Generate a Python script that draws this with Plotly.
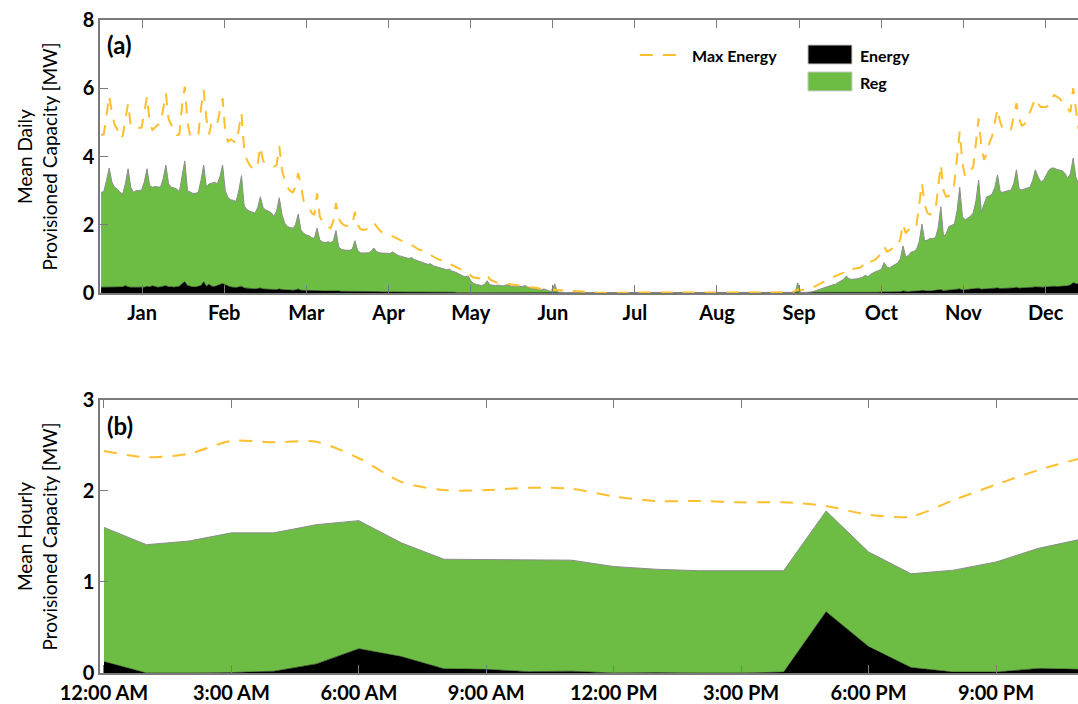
import plotly.graph_objects as go

# ---------------- data ----------------
month_labels = ["Jan", "Feb", "Mar", "Apr", "May", "Jun",
                "Jul", "Aug", "Sep", "Oct", "Nov", "Dec"]
month_tick_days = [15.2, 45.6, 76.0, 106.5, 136.9, 167.3,
                   197.7, 228.1, 258.5, 289.0, 319.4, 349.8]

# top of the Reg band (Energy + Reg), daily, MW
reg_top_daily = [
    2.95, 2.97, 3.30, 3.66, 3.25, 3.10, 3.05,
    2.95, 2.90, 3.20, 3.64, 3.10, 2.95, 3.00,
    3.00, 3.02, 3.25, 3.64, 3.15, 3.10, 3.12,
    3.12, 3.10, 3.35, 3.75, 3.20, 3.10, 3.08,
    3.05, 2.97, 3.40, 3.87, 3.00, 2.95, 2.92,
    2.92, 2.95, 3.30, 3.75, 3.10, 3.20, 3.22,
    3.25, 3.20, 3.40, 3.75, 3.00, 2.80, 2.73,
    2.72, 2.68, 3.00, 3.44, 2.55, 2.45, 2.40,
    2.36, 2.34, 2.50, 2.82, 2.50, 2.43, 2.40,
    2.35, 2.25, 2.40, 2.79, 2.30, 2.05, 1.95,
    1.92, 1.90, 2.00, 2.31, 1.85, 1.75, 1.70,
    1.68, 1.62, 1.60, 1.90, 1.55, 1.50, 1.47,
    1.50, 1.48, 1.52, 1.83, 1.35, 1.28, 1.26,
    1.26, 1.25, 1.28, 1.53, 1.25, 1.18, 1.17,
    1.17, 1.18, 1.22, 1.32, 1.22, 1.18, 1.17,
    1.16, 1.15, 1.16, 1.20, 1.14, 1.10, 1.08,
    1.05, 1.03, 1.01, 1.04, 0.98, 0.95, 0.93,
    0.90, 0.87, 0.84, 0.86, 0.80, 0.78, 0.76,
    0.73, 0.70, 0.68, 0.70, 0.64, 0.62, 0.58,
    0.52, 0.50, 0.48, 0.50, 0.35, 0.28, 0.25,
    0.24, 0.22, 0.25, 0.36, 0.24, 0.22, 0.22,
    0.23, 0.22, 0.21, 0.24, 0.21, 0.20, 0.20,
    0.20, 0.19, 0.19, 0.22, 0.17, 0.15, 0.13,
    0.11, 0.10, 0.09, 0.12, 0.08, 0.06, 0.05,
    0.27, 0.03, 0.02, 0.02, 0.01, 0.01, 0.01,
    0.01, 0.01, 0.01, 0.01, 0.01, 0.01, 0.01,
    0.01, 0.01, 0.01, 0.01, 0.01, 0.01, 0.01,
    0.01, 0.01, 0.01, 0.01, 0.01, 0.01, 0.01,
    0.01, 0.01, 0.01, 0.01, 0.01, 0.01, 0.01,
    0.01, 0.01, 0.01, 0.01, 0.01, 0.01, 0.01,
    0.01, 0.01, 0.01, 0.01, 0.01, 0.01, 0.01,
    0.01, 0.01, 0.01, 0.01, 0.01, 0.01, 0.01,
    0.01, 0.01, 0.01, 0.01, 0.01, 0.01, 0.01,
    0.01, 0.01, 0.01, 0.01, 0.01, 0.01, 0.01,
    0.01, 0.01, 0.01, 0.01, 0.01, 0.01, 0.01,
    0.01, 0.01, 0.01, 0.01, 0.01, 0.01, 0.01,
    0.01, 0.01, 0.01, 0.01, 0.01, 0.01, 0.30,
    0.01, 0.01, 0.01, 0.02, 0.03, 0.05, 0.08,
    0.10, 0.13, 0.16, 0.20, 0.22, 0.24, 0.26,
    0.30, 0.34, 0.40, 0.50, 0.42, 0.40, 0.40,
    0.42, 0.44, 0.46, 0.52, 0.48, 0.55, 0.60,
    0.63, 0.66, 0.70, 0.89, 0.76, 0.74, 0.78,
    0.82, 0.88, 1.00, 1.38, 1.06, 1.10, 1.20,
    1.22, 1.28, 1.50, 2.02, 1.53, 1.55, 1.60,
    1.60, 1.62, 1.90, 2.53, 1.65, 1.75, 1.95,
    1.98, 2.02, 2.40, 3.10, 2.24, 2.14, 2.20,
    2.25, 2.35, 2.70, 3.31, 2.38, 2.60, 2.82,
    2.85, 2.90, 3.10, 3.46, 2.97, 2.95, 2.98,
    3.00, 3.02, 3.20, 3.61, 3.05, 3.02, 3.05,
    3.08, 3.10, 3.30, 3.61, 3.41, 3.26, 3.30,
    3.45, 3.60, 3.66, 3.66, 3.62, 3.61, 3.58,
    3.50, 3.36, 3.50, 3.95, 3.40, 3.20, 3.25,
    3.25,
]

energy_daily = [
    0.17, 0.17, 0.17, 0.18, 0.17, 0.17, 0.17,
    0.17, 0.18, 0.22, 0.18, 0.17, 0.17, 0.18,
    0.17, 0.18, 0.17, 0.20, 0.18, 0.21, 0.18,
    0.17, 0.18, 0.20, 0.22, 0.18, 0.19, 0.17,
    0.18, 0.20, 0.28, 0.33, 0.22, 0.19, 0.18,
    0.18, 0.19, 0.22, 0.33, 0.20, 0.26, 0.20,
    0.19, 0.22, 0.25, 0.28, 0.24, 0.20, 0.18,
    0.17, 0.16, 0.18, 0.20, 0.15, 0.14, 0.14,
    0.13, 0.12, 0.13, 0.15, 0.12, 0.11, 0.11,
    0.11, 0.10, 0.10, 0.12, 0.10, 0.09, 0.09,
    0.09, 0.08, 0.09, 0.12, 0.08, 0.08, 0.07,
    0.07, 0.07, 0.07, 0.09, 0.07, 0.06, 0.06,
    0.06, 0.06, 0.06, 0.08, 0.06, 0.05, 0.05,
    0.05, 0.05, 0.05, 0.06, 0.05, 0.04, 0.04,
    0.04, 0.04, 0.04, 0.05, 0.04, 0.04, 0.03,
    0.03, 0.03, 0.03, 0.04, 0.03, 0.03, 0.03,
    0.03, 0.03, 0.02, 0.03, 0.02, 0.02, 0.02,
    0.02, 0.02, 0.02, 0.03, 0.02, 0.02, 0.02,
    0.02, 0.02, 0.02, 0.02, 0.02, 0.02, 0.01,
    0.01, 0.01, 0.01, 0.01, 0.01, 0.01, 0.01,
    0.01, 0.01, 0.01, 0.01, 0.01, 0.01, 0.01,
    0.01, 0.01, 0.01, 0.01, 0.01, 0.01, 0.01,
    0.01, 0.01, 0.01, 0.01, 0.01, 0.00, 0.00,
    0.00, 0.00, 0.00, 0.00, 0.00, 0.00, 0.00,
    0.00, 0.00, 0.00, 0.00, 0.00, 0.00, 0.00,
    0.00, 0.00, 0.00, 0.00, 0.00, 0.00, 0.00,
    0.00, 0.00, 0.00, 0.00, 0.00, 0.00, 0.00,
    0.00, 0.00, 0.00, 0.00, 0.00, 0.00, 0.00,
    0.00, 0.00, 0.00, 0.00, 0.00, 0.00, 0.00,
    0.00, 0.00, 0.00, 0.00, 0.00, 0.00, 0.00,
    0.00, 0.00, 0.00, 0.00, 0.00, 0.00, 0.00,
    0.00, 0.00, 0.00, 0.00, 0.00, 0.00, 0.00,
    0.00, 0.00, 0.00, 0.00, 0.00, 0.00, 0.00,
    0.00, 0.00, 0.00, 0.00, 0.00, 0.00, 0.00,
    0.00, 0.00, 0.00, 0.00, 0.00, 0.00, 0.00,
    0.00, 0.00, 0.00, 0.00, 0.00, 0.00, 0.00,
    0.00, 0.00, 0.00, 0.00, 0.00, 0.00, 0.00,
    0.00, 0.00, 0.00, 0.00, 0.00, 0.00, 0.00,
    0.00, 0.00, 0.00, 0.00, 0.01, 0.01, 0.01,
    0.01, 0.01, 0.01, 0.02, 0.01, 0.01, 0.01,
    0.01, 0.02, 0.02, 0.02, 0.02, 0.02, 0.02,
    0.02, 0.02, 0.03, 0.04, 0.03, 0.03, 0.03,
    0.03, 0.04, 0.04, 0.06, 0.04, 0.04, 0.05,
    0.05, 0.05, 0.06, 0.08, 0.06, 0.06, 0.06,
    0.07, 0.07, 0.08, 0.10, 0.07, 0.08, 0.08,
    0.09, 0.09, 0.10, 0.12, 0.09, 0.10, 0.10,
    0.10, 0.11, 0.12, 0.14, 0.11, 0.12, 0.12,
    0.12, 0.13, 0.14, 0.15, 0.13, 0.13, 0.14,
    0.14, 0.14, 0.15, 0.17, 0.14, 0.15, 0.15,
    0.15, 0.16, 0.17, 0.18, 0.17, 0.16, 0.17,
    0.18, 0.19, 0.20, 0.20, 0.19, 0.19, 0.20,
    0.20, 0.21, 0.24, 0.30, 0.28, 0.26, 0.27,
    0.28,
]

max_energy_daily = [
    4.63, 4.65, 5.20, 5.78, 5.30, 4.93, 4.80,
    4.53, 4.60, 5.10, 5.56, 4.90, 4.83, 4.83,
    4.83, 4.85, 5.30, 5.76, 5.00, 4.78, 4.85,
    4.93, 4.95, 5.40, 5.85, 5.10, 4.90, 4.75,
    4.63, 4.65, 5.50, 6.05, 5.00, 4.60, 4.58,
    4.60, 4.62, 5.40, 5.95, 5.10, 4.65, 5.02,
    5.02, 4.95, 5.30, 5.71, 4.70, 4.44, 4.50,
    4.44, 4.40, 4.80, 5.27, 4.20, 3.90, 3.75,
    3.65, 3.61, 3.80, 4.29, 3.87, 3.80, 3.75,
    3.72, 3.70, 3.75, 4.31, 3.60, 3.30, 3.10,
    2.99, 2.95, 3.10, 3.51, 3.17, 2.70, 2.58,
    2.50, 2.35, 2.29, 2.92, 2.24, 2.10, 2.00,
    1.95, 1.90, 2.10, 2.63, 2.20, 2.05, 1.99,
    1.96, 1.94, 2.00, 2.38, 2.00, 1.88, 1.85,
    1.86, 1.90, 1.95, 2.06, 1.95, 1.85, 1.78,
    1.74, 1.70, 1.67, 1.66, 1.62, 1.57, 1.53,
    1.50, 1.47, 1.43, 1.40, 1.35, 1.30, 1.26,
    1.26, 1.22, 1.17, 1.12, 1.07, 1.02, 0.98,
    0.97, 0.93, 0.89, 0.85, 0.80, 0.76, 0.73,
    0.70, 0.68, 0.65, 0.62, 0.50, 0.45, 0.45,
    0.44, 0.42, 0.45, 0.53, 0.40, 0.35, 0.32,
    0.30, 0.29, 0.27, 0.28, 0.25, 0.24, 0.23,
    0.23, 0.22, 0.21, 0.22, 0.19, 0.17, 0.16,
    0.16, 0.14, 0.12, 0.13, 0.11, 0.10, 0.09,
    0.10, 0.09, 0.08, 0.08, 0.07, 0.07, 0.06,
    0.06, 0.05, 0.05, 0.05, 0.04, 0.03, 0.02,
    0.01, 0.01, 0.01, 0.01, 0.01, 0.01, 0.01,
    0.01, 0.01, 0.01, 0.01, 0.01, 0.01, 0.01,
    0.01, 0.01, 0.01, 0.01, 0.01, 0.01, 0.01,
    0.01, 0.01, 0.01, 0.01, 0.01, 0.01, 0.01,
    0.01, 0.01, 0.01, 0.01, 0.01, 0.01, 0.01,
    0.01, 0.01, 0.01, 0.01, 0.01, 0.01, 0.01,
    0.01, 0.01, 0.01, 0.01, 0.01, 0.01, 0.01,
    0.01, 0.01, 0.01, 0.01, 0.01, 0.01, 0.01,
    0.01, 0.01, 0.01, 0.01, 0.01, 0.01, 0.01,
    0.01, 0.01, 0.01, 0.01, 0.01, 0.01, 0.01,
    0.01, 0.01, 0.01, 0.01, 0.02, 0.06, 0.10,
    0.09, 0.09, 0.09, 0.10, 0.14, 0.18, 0.22,
    0.27, 0.30, 0.36, 0.40, 0.44, 0.47, 0.50,
    0.53, 0.56, 0.60, 0.70, 0.68, 0.70, 0.72,
    0.72, 0.74, 0.80, 0.95, 0.92, 0.92, 0.95,
    1.00, 1.08, 1.20, 1.36, 1.21, 1.25, 1.30,
    1.32, 1.34, 1.60, 2.02, 1.75, 1.85, 1.90,
    1.85, 1.99, 2.60, 3.22, 2.60, 2.35, 2.30,
    2.35, 2.40, 3.10, 3.76, 3.00, 2.82, 2.85,
    2.90, 3.20, 4.00, 4.73, 3.80, 3.41, 3.50,
    3.60, 3.70, 4.40, 5.12, 4.30, 3.90, 4.10,
    4.40, 4.60, 5.00, 5.39, 5.00, 4.80, 4.75,
    4.75, 4.80, 5.20, 5.56, 5.10, 4.90, 4.95,
    5.10, 5.30, 5.50, 5.70, 5.55, 5.45, 5.45,
    5.45, 5.50, 5.70, 5.80, 5.75, 5.70, 5.60,
    5.50, 5.40, 5.30, 6.00, 5.40, 4.80, 5.00,
    5.20,
]

days = list(range(len(reg_top_daily)))

hour_tick_vals = [0, 3, 6, 9, 12, 15, 18, 21]
hour_tick_labels = ["12:00 AM", "3:00 AM", "6:00 AM", "9:00 AM",
                    "12:00 PM", "3:00 PM", "6:00 PM", "9:00 PM"]
hours = list(range(24))
energy_hourly = [0.125, 0.00, 0.00, 0.005, 0.02, 0.10, 0.267, 0.18,
                 0.047, 0.04, 0.015, 0.02, 0.00, 0.005, 0.00, 0.00,
                 0.01, 0.674, 0.29, 0.06, 0.01, 0.01, 0.05, 0.04]
reg_top_hourly = [1.60, 1.41, 1.45, 1.54, 1.54, 1.63, 1.674, 1.43,
                  1.25, 1.245, 1.24, 1.24, 1.17, 1.14, 1.124, 1.124,
                  1.124, 1.78, 1.33, 1.09, 1.13, 1.22, 1.37, 1.47]
max_energy_hourly = [2.44, 2.37, 2.41, 2.55, 2.535, 2.54, 2.36, 2.10,
                     2.01, 2.01, 2.036, 2.025, 1.94, 1.89, 1.89, 1.875,
                     1.875, 1.835, 1.74, 1.72, 1.90, 2.07, 2.23, 2.36]

# ---------------- styles ----------------
GREEN = "#6dbd45"
BLACK = "#000000"
YELLOW = "#fdbf2d"
EDGE = "#8c8c8c"
AXIS = "#7a7a7a"
FONT = "Lato"

fig = go.Figure()

# (a) daily
fig.add_trace(go.Scatter(x=days, y=energy_daily, mode="lines", fill="tozeroy",
                         fillcolor=BLACK, line=dict(color=BLACK, width=0.5),
                         name="Energy", showlegend=False, xaxis="x", yaxis="y"))
fig.add_trace(go.Scatter(x=days, y=reg_top_daily, mode="lines", fill="tonexty",
                         fillcolor=GREEN, line=dict(color=EDGE, width=1),
                         name="Reg", showlegend=False, xaxis="x", yaxis="y"))
fig.add_trace(go.Scatter(x=days, y=max_energy_daily, mode="lines",
                         line=dict(color=YELLOW, width=2, dash="12px,10px"),
                         name="Max Energy", showlegend=False, xaxis="x", yaxis="y"))

# (b) hourly
fig.add_trace(go.Scatter(x=hours, y=energy_hourly, mode="lines", fill="tozeroy",
                         fillcolor=BLACK, line=dict(color=BLACK, width=0.5),
                         name="Energy", showlegend=False, xaxis="x2", yaxis="y2"))
fig.add_trace(go.Scatter(x=hours, y=reg_top_hourly, mode="lines", fill="tonexty",
                         fillcolor=GREEN, line=dict(color=EDGE, width=1),
                         name="Reg", showlegend=False, xaxis="x2", yaxis="y2"))
fig.add_trace(go.Scatter(x=hours, y=max_energy_hourly, mode="lines",
                         line=dict(color=YELLOW, width=2, dash="13px,10px",
                                   shape="spline", smoothing=0.8),
                         name="Max Energy", showlegend=False, xaxis="x2", yaxis="y2"))

xtickfont = dict(family=FONT, size=20, color="black", weight="bold")
ytickfont = dict(family=FONT, size=20, color="black", weight="bold")
titlefont = dict(family=FONT, size=19, color="black")

common_x = dict(showline=True, linecolor=AXIS, linewidth=1.5, mirror="ticks",
                ticks="inside", ticklen=8, tickcolor=AXIS, tickwidth=1,
                showgrid=False, zeroline=False, tickfont=xtickfont,
                ticklabelstandoff=1, automargin=False)
common_y = dict(showline=True, linecolor=AXIS, linewidth=1.5, mirror=False,
                ticks="inside", ticklen=8, tickcolor=AXIS, tickwidth=1,
                showgrid=False, zeroline=False, tickfont=ytickfont,
                automargin=False)

fig.update_layout(
    width=1078, height=704,
    margin=dict(l=100, r=0, t=20, b=31),
    paper_bgcolor="white", plot_bgcolor="white",
    font=dict(family=FONT, color="black"),
    xaxis=dict(domain=[0, 1], anchor="y", range=[-0.4, 361.8],
               tickvals=month_tick_days, ticktext=month_labels, **common_x),
    yaxis=dict(domain=[0.5819, 1], anchor="x", range=[0, 8],
               tickvals=[0, 2, 4, 6, 8],
               title=dict(text="Mean Daily<br>Provisioned Capacity [MW]",
                          font=titlefont, standoff=20),
               **common_y),
    xaxis2=dict(domain=[0, 1], anchor="y2", range=[-0.094, 22.93],
                tickvals=hour_tick_vals, ticktext=hour_tick_labels, **common_x),
    yaxis2=dict(domain=[0, 0.4181], anchor="x2", range=[0, 3],
                tickvals=[0, 1, 2, 3],
                title=dict(text="Mean Hourly<br>Provisioned Capacity [MW]",
                           font=titlefont, standoff=20),
                **common_y),
    showlegend=False,
)

# panel labels
fig.add_annotation(text="(a)", xref="x domain", yref="y domain", x=0.005, y=0.912,
                   xanchor="left", yanchor="middle", showarrow=False,
                   font=dict(family=FONT, size=24, color="black", weight="bold"))
fig.add_annotation(text="(b)", xref="x2 domain", yref="y2 domain", x=0.005, y=0.908,
                   xanchor="left", yanchor="middle", showarrow=False,
                   font=dict(family=FONT, size=24, color="black", weight="bold"))

# legend (drawn as key)
legfont = dict(family=FONT, size=16, color="black", weight="bold")
fig.add_shape(type="line", xref="paper", yref="paper", x0=0.552, x1=0.590,
              y0=0.9464, y1=0.9464, line=dict(color=YELLOW, width=2, dash="13px,10px"))
fig.add_annotation(text="Max Energy", xref="paper", yref="paper", x=0.6033, y=0.9464,
                   xanchor="left", yanchor="middle", showarrow=False, font=legfont)
fig.add_shape(type="rect", xref="paper", yref="paper", x0=0.7239, x1=0.7689,
              y0=0.9326, y1=0.9617, fillcolor=BLACK, line=dict(color="#cccccc", width=1))
fig.add_annotation(text="Energy", xref="paper", yref="paper", x=0.775, y=0.9464,
                   xanchor="left", yanchor="middle", showarrow=False, font=legfont)
fig.add_shape(type="rect", xref="paper", yref="paper", x0=0.7239, x1=0.7689,
              y0=0.8913, y1=0.9204, fillcolor=GREEN, line=dict(color="#cccccc", width=1))
fig.add_annotation(text="Reg", xref="paper", yref="paper", x=0.775, y=0.905,
                   xanchor="left", yanchor="middle", showarrow=False, font=legfont)

fig.write_html("out.html")
